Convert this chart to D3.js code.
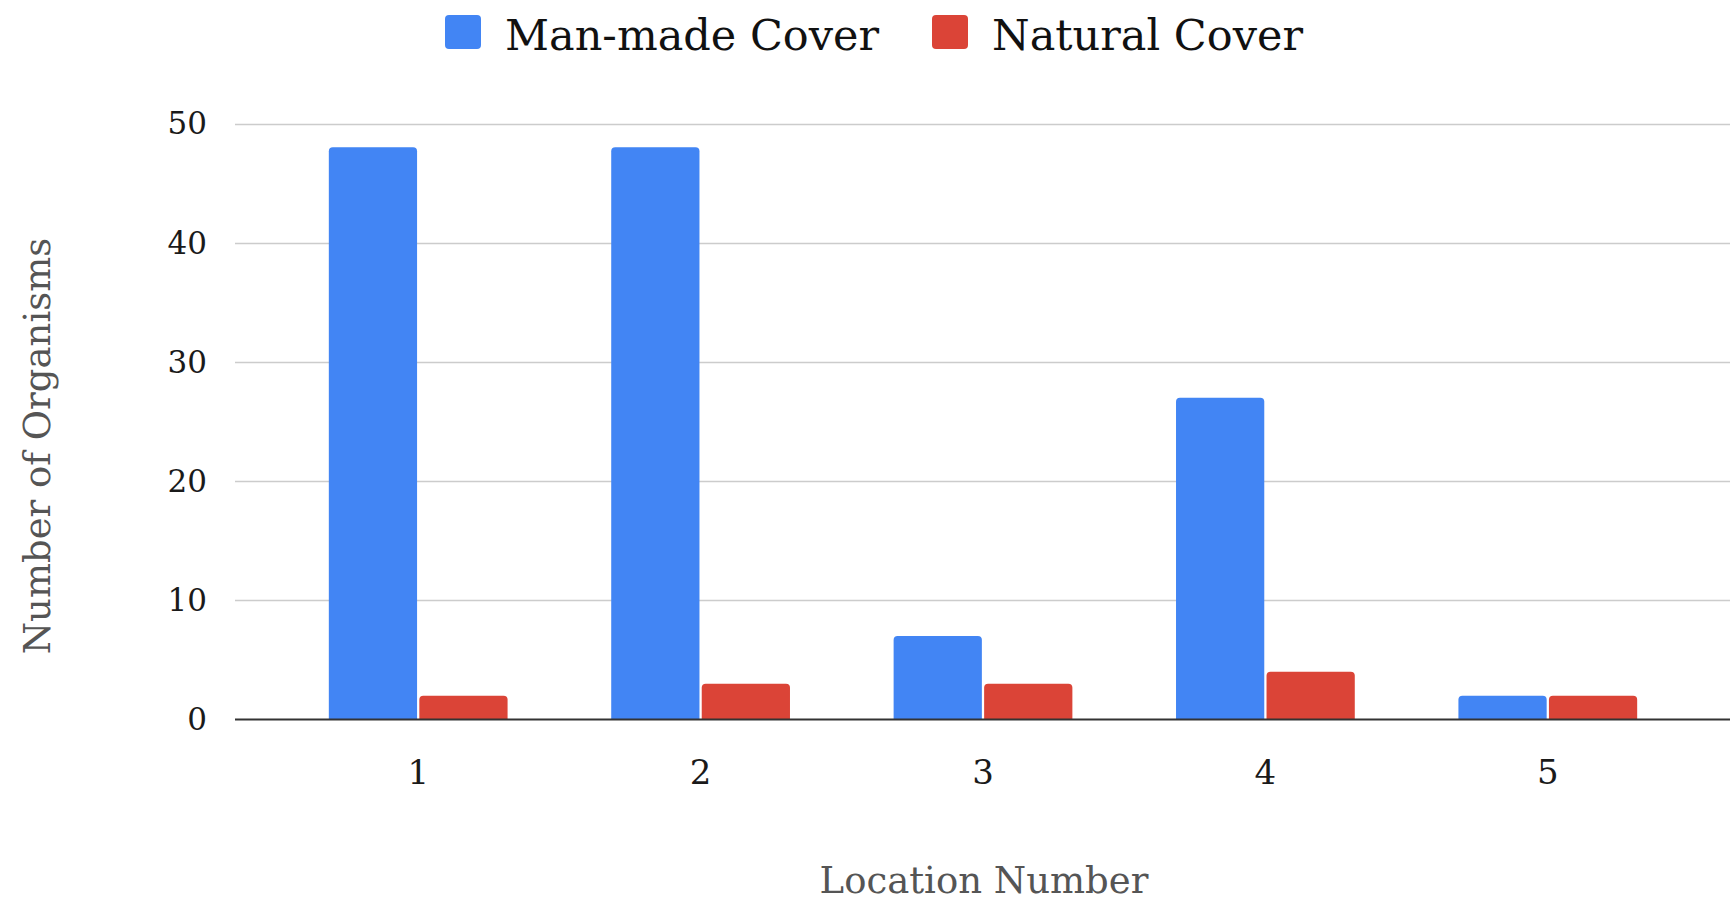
<!DOCTYPE html>
<html>
<head>
<meta charset="utf-8">
<script src="https://cdn.jsdelivr.net/npm/d3@7"></script>
<style>
  html, body { margin: 0; padding: 0; background: #fff; }
  svg { display: block; }
  text { font-family: "DejaVu Serif", "Liberation Serif", serif; }
</style>
</head>
<body>
<div id="chart"></div>
<script>
// data
const locations = ["1", "2", "3", "4", "5"];
const seriesNames = ["Man-made Cover", "Natural Cover"];
const manMade = [48, 48, 7, 27, 2];
const natural = [2, 3, 3, 4, 2];
const yTicks = [0, 10, 20, 30, 40, 50];
const colors = ["#4285f4", "#db4437"];

const width = 1730, height = 901;
const plotLeft = 235, plotRight = 1730;

const rows = locations.map((loc, i) => ({ loc, values: [manMade[i], natural[i]] }));

const svg = d3.select("#chart").append("svg")
    .attr("width", width)
    .attr("height", height);

const yScale = d3.scaleLinear()
    .domain([0, 50])
    .range([719.5, 123.5]);

const xScale = d3.scaleBand()
    .domain(locations)
    .range([277, 1689])
    .paddingInner(0.367)
    .paddingOuter(0.367 / 2);

const xInner = d3.scaleBand()
    .domain(seriesNames)
    .range([0, xScale.bandwidth()])
    .paddingInner(0.025);

// gridlines
svg.append("g")
    .selectAll("line")
    .data(yTicks.filter(d => d > 0))
    .enter()
    .append("line")
    .attr("x1", plotLeft)
    .attr("x2", plotRight)
    .attr("y1", d => Math.round(yScale(d)) + 0.5)
    .attr("y2", d => Math.round(yScale(d)) + 0.5)
    .attr("stroke", "#cccccc")
    .attr("stroke-width", 1.5);

// y tick labels
svg.append("g")
    .selectAll("text")
    .data(yTicks)
    .enter()
    .append("text")
    .attr("x", 207)
    .attr("y", d => yScale(d))
    .attr("dy", "0.35em")
    .attr("text-anchor", "end")
    .attr("font-size", 31)
    .attr("fill", "#1a1a1a")
    .text(d => d);

// bars with slightly rounded tops
function barPath(x, y, w, h, r) {
    r = Math.min(r, h, w / 2);
    return `M${x},${y + h}V${y + r}Q${x},${y} ${x + r},${y}H${x + w - r}Q${x + w},${y} ${x + w},${y + r}V${y + h}Z`;
}

const groups = svg.append("g")
    .selectAll("g")
    .data(rows)
    .enter()
    .append("g")
    .attr("transform", d => `translate(${xScale(d.loc)},0)`);

groups.selectAll("path")
    .data(d => d.values.map((v, i) => ({ name: seriesNames[i], value: v, i })))
    .enter()
    .append("path")
    .attr("d", d => barPath(xInner(d.name), yScale(d.value), xInner.bandwidth(),
        yScale(0) - yScale(d.value), 4))
    .attr("fill", d => colors[d.i]);

// baseline
svg.append("line")
    .attr("x1", plotLeft)
    .attr("x2", plotRight)
    .attr("y1", yScale(0))
    .attr("y2", yScale(0))
    .attr("stroke", "#333")
    .attr("stroke-width", 2);

// x tick labels
svg.append("g")
    .selectAll("text")
    .data(locations)
    .enter()
    .append("text")
    .attr("x", d => xScale(d) + xScale.bandwidth() / 2)
    .attr("y", 772)
    .attr("dy", "0.35em")
    .attr("text-anchor", "middle")
    .attr("font-size", 34)
    .attr("fill", "#1a1a1a")
    .text(d => d);

// axis titles
svg.append("text")
    .attr("x", 984)
    .attr("y", 893)
    .attr("text-anchor", "middle")
    .attr("font-size", 37)
    .attr("fill", "#555")
    .text("Location Number");

svg.append("text")
    .attr("transform", `translate(50,446) rotate(-90)`)
    .attr("text-anchor", "middle")
    .attr("font-size", 37)
    .attr("fill", "#555")
    .text("Number of Organisms");

// legend
const legendX = [445, 932];
const legend = svg.append("g")
    .selectAll("g")
    .data(seriesNames)
    .enter()
    .append("g")
    .attr("transform", (d, i) => `translate(${legendX[i]},0)`);

legend.append("rect")
    .attr("x", 0)
    .attr("y", 15)
    .attr("width", 36)
    .attr("height", 34)
    .attr("rx", 4)
    .attr("fill", (d, i) => colors[i]);

legend.append("text")
    .attr("x", 60)
    .attr("y", 50)
    .attr("font-size", 43)
    .attr("fill", "#111")
    .text(d => d);
</script>
</body>
</html>
